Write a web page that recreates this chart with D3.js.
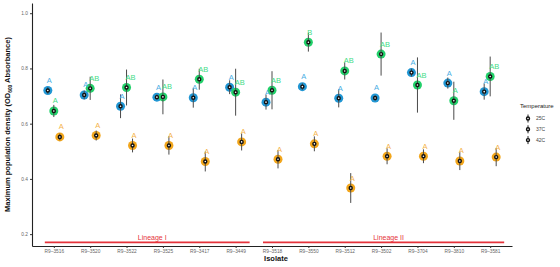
<!DOCTYPE html>
<html><head>
<meta charset="utf-8">
<script src="https://d3js.org/d3.v7.min.js"></script>
<style>
  body { margin: 0; background: #fff; }
  svg { font-family: "Liberation Sans", Arial, sans-serif; }
  .axis .domain { stroke: #222; stroke-width: 1.1px; }
  .axis .tick line { stroke: #333; }
  .axis .tick text { fill: #666; font-size: 4.8px; }
</style>
</head>
<body>
<svg id="chart" width="560" height="267"></svg>
<script>
// isolates (x categories) and the lineage they belong to
const isolates = ["R9–3516", "R9–3520", "R9–3522", "R9–3525", "R9–3417", "R9–3449",
                  "R9–3518", "R9–3550", "R9–3512", "R9–3502", "R9–3704", "R9–3810", "R9–3581"];
const lineages = [
  {name: "Lineage I",  from: 0, to: 5},
  {name: "Lineage II", from: 6, to: 12}
];
const temps = ["25C", "37C", "42C"];
const yTicks = [0.2, 0.4, 0.6, 0.8, 1.0];

// means and sd per temperature, one value per isolate
const mean25 = [0.720, 0.704, 0.663, 0.696, 0.694, 0.732, 0.678, 0.734, 0.692, 0.693, 0.785, 0.747, 0.716];
const sd25   = [0.012, 0.016, 0.043, 0.010, 0.036, 0.025, 0.027, 0.012, 0.033, 0.010, 0.014, 0.020, 0.029];
const mean37 = [0.646, 0.728, 0.731, 0.697, 0.761, 0.714, 0.721, 0.895, 0.791, 0.852, 0.740, 0.683, 0.771];
const sd37   = [0.022, 0.042, 0.065, 0.063, 0.038, 0.085, 0.069, 0.034, 0.031, 0.078, 0.100, 0.069, 0.072];
const mean42 = [0.552, 0.557, 0.521, 0.521, 0.463, 0.534, 0.471, 0.527, 0.367, 0.482, 0.482, 0.465, 0.479];
const sd42   = [0.012, 0.018, 0.025, 0.033, 0.036, 0.031, 0.033, 0.027, 0.054, 0.029, 0.025, 0.033, 0.033];

// significance letters
const let25 = ["A","A","A","A","A","A","A","A","A","A","A","A","A"];
const let37 = ["A","AB","AB","AB","AB","AB","AB","B","AB","AB","AB","A","AB"];
const let42 = ["A","A","A","A","A","A","A","A","A","A","A","A","A"];

const colors = {"25C": "#2196d3", "37C": "#22d06a", "42C": "#f2a61c"};
const textColors = {"25C": "#48aee3", "37C": "#3fdc86", "42C": "#f4b34a"};

const svg = d3.select("#chart");
const margins = {left: 32, right: 48, top: 3, bottom: 21};
const width = +svg.attr("width"), height = +svg.attr("height");

const x = d3.scalePoint().domain(isolates)
            .range([margins.left, width - margins.right]).padding(0.6);
const dodge = d3.scalePoint().domain(temps).range([-6, 6]);
const y = d3.scaleLinear().domain([0.157, 1.037]).range([height - margins.bottom, margins.top]);

// build rows
const means = {"25C": mean25, "37C": mean37, "42C": mean42};
const sds = {"25C": sd25, "37C": sd37, "42C": sd42};
const lets = {"25C": let25, "37C": let37, "42C": let42};
let rows = [];
temps.forEach(t => {
  isolates.forEach((iso, i) => {
    rows.push({iso: iso, temp: t, mean: means[t][i], sd: sds[t][i], letter: lets[t][i]});
  });
});

// axes
svg.append("g").attr("class", "axis")
  .attr("transform", "translate(" + margins.left + ",0)")
  .call(d3.axisLeft(y).tickValues(yTicks).tickSize(2).tickPadding(2).tickSizeOuter(0)
         .tickFormat(d3.format(".1f")));
svg.append("g").attr("class", "axis")
  .attr("transform", "translate(0," + (height - margins.bottom) + ")")
  .call(d3.axisBottom(x).tickSize(2).tickPadding(2).tickSizeOuter(0));

// lineage bars
lineages.forEach(l => {
  const x1 = x(isolates[l.from]) - 9, x2 = x(isolates[l.to]) + 14;
  svg.append("line")
    .attr("x1", x1).attr("x2", x2)
    .attr("y1", y(0.17)).attr("y2", y(0.17))
    .attr("stroke", "#e5333b").attr("stroke-width", 1.6);
  svg.append("text")
    .attr("x", (x1 + x2) / 2 + 5).attr("y", y(0.17) - 2.5)
    .attr("text-anchor", "middle").attr("fill", "#e5333b")
    .style("font-size", "7px")
    .text(l.name);
});

const px = d => x(d.iso) + dodge(d.temp);

// halos
svg.append("g").selectAll("circle").data(rows).join("circle")
  .attr("cx", px).attr("cy", d => y(d.mean)).attr("r", 4.5)
  .attr("fill", d => colors[d.temp]);

// error bars
svg.append("g").selectAll("line").data(rows).join("line")
  .attr("x1", px).attr("x2", px)
  .attr("y1", d => y(d.mean - d.sd)).attr("y2", d => y(d.mean + d.sd))
  .attr("stroke", "#4a4a4a").attr("stroke-width", 1);

// centre dots
svg.append("g").selectAll("circle").data(rows).join("circle")
  .attr("cx", px).attr("cy", d => y(d.mean)).attr("r", 1.5)
  .attr("fill", "#fff").attr("stroke", "#111").attr("stroke-width", 1.4);

// letters
svg.append("g").selectAll("text").data(rows).join("text")
  .attr("x", d => px(d) - 1).attr("y", d => y(d.mean) - 7.5)
  .attr("fill", d => textColors[d.temp])
  .style("font-size", "7.5px")
  .text(d => d.letter);

// axis titles
svg.append("text")
  .attr("transform", "translate(10," + ((margins.top + height - margins.bottom) / 2) + ") rotate(-90)")
  .attr("text-anchor", "middle")
  .style("font-size", "7.5px").style("font-weight", "bold").attr("fill", "#111")
  .html('Maximum population density (OD<tspan dy="1.5" style="font-size:4.8px">600</tspan><tspan dy="-1.5"> Absorbance)</tspan>');

svg.append("text")
  .attr("x", (margins.left + width - margins.right) / 2 + 4).attr("y", 261)
  .attr("text-anchor", "middle")
  .style("font-size", "7.5px").style("font-weight", "bold").attr("fill", "#111")
  .text("Isolate");

// legend
const legend = svg.append("g").attr("transform", "translate(520,0)");
legend.append("text").attr("x", 0).attr("y", 108)
  .style("font-size", "6px").attr("fill", "#222").text("Temperature");
temps.forEach((t, i) => {
  const ky = 118.5 + i * 10.8;
  legend.append("line").attr("x1", 8).attr("x2", 8).attr("y1", ky - 4).attr("y2", ky + 4)
    .attr("stroke", "#222").attr("stroke-width", 1);
  legend.append("circle").attr("cx", 8).attr("cy", ky).attr("r", 1.5)
    .attr("fill", "#fff").attr("stroke", "#111").attr("stroke-width", 1.4);
  legend.append("text").attr("x", 16).attr("y", ky + 1.8)
    .style("font-size", "5px").attr("fill", "#444").text(t);
});
</script>
</body>
</html>
